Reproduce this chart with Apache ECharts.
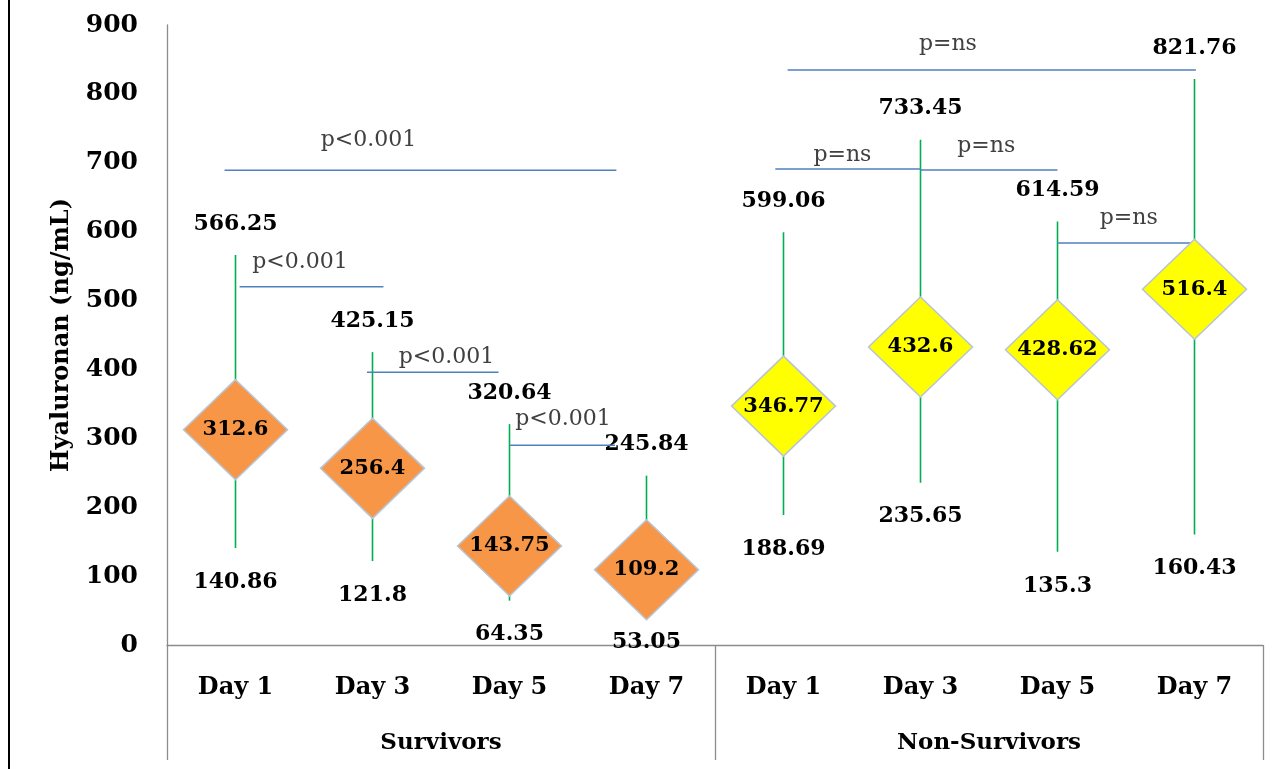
<!DOCTYPE html>
<html>
<head>
<meta charset="utf-8">
<script src="https://cdn.jsdelivr.net/npm/echarts@6/dist/echarts.min.js"></script>
<style>
  html, body { margin: 0; padding: 0; background: #fff; }
  #chart { position: absolute; left: 0; top: 0; width: 1278px; height: 769px; }
  #frame { position: absolute; left: 8px; top: 0; width: 2px; height: 769px; background: #000; }
</style>
</head>
<body>
<div id="chart"></div>
<div id="frame"></div>
<script>
// Hyaluronan by day: median (diamond) with range (whisker), survivors vs non-survivors
const days = ['Day 1', 'Day 3', 'Day 5', 'Day 7', 'Day 1', 'Day 3', 'Day 5', 'Day 7'];
const groups = ['Survivors', 'Non-Survivors'];
const centers = [312.6, 256.4, 143.75, 109.2, 346.77, 432.6, 428.62, 516.4];
const highs = [566.25, 425.15, 320.64, 245.84, 599.06, 733.45, 614.59, 821.76];
const lows = [140.86, 121.8, 64.35, 53.05, 188.69, 235.65, 135.3, 160.43];
const groupOf = [0, 0, 0, 0, 1, 1, 1, 1];

// y axis range
const yMin = 0, yMax = 900, yStep = 100;

// comparison brackets: x in category widths from the left end of the axis, y in ng/mL
const bracketFrom  = [0.42, 0.53, 1.46, 2.50, 4.53, 4.44, 5.50, 6.50];
const bracketTo    = [3.28, 1.58, 2.42, 3.27, 7.51, 5.50, 6.50, 7.51];
const bracketLevel = [689, 520, 396, 290, 834.5, 690.8, 689.4, 583.5];
const pLabels      = ['p<0.001', 'p<0.001', 'p<0.001', 'p<0.001', 'p=ns', 'p=ns', 'p=ns', 'p=ns'];
const pLabelX      = [1.47, 0.97, 2.04, 2.89, 5.70, 4.93, 5.98, 7.02];
const pLabelY      = [733, 556, 418, 327, 872, 711, 724, 620];

const SERIF = '"DejaVu Serif", "Liberation Serif", serif';
const groupColors = ['#F79646', '#FFFF00'];

const chart = echarts.init(document.getElementById('chart'), null, { renderer: 'canvas' });

const whiskerData = days.map((d, i) => [i, highs[i], lows[i]]);
const diamondData = days.map((d, i) => ({
  value: [i, centers[i]],
  itemStyle: { color: groupColors[groupOf[i]] }
}));

const bracketSeries = bracketFrom.map((x0, k) => ({
  type: 'line',
  xAxisIndex: 2,
  yAxisIndex: 0,
  data: [[x0, bracketLevel[k]], [bracketTo[k], bracketLevel[k]]],
  symbol: 'none',
  silent: true,
  z: 3,
  lineStyle: { color: '#4F81BD', width: 1.5 }
}));

const option = {
  animation: false,
  backgroundColor: '#fff',
  grid: { left: 167, right: 15, top: 25, bottom: 124, containLabel: false },
  xAxis: [
    {
      type: 'category',
      data: days,
      position: 'bottom',
      boundaryGap: true,
      axisLine: { show: true, lineStyle: { color: '#8C8C8C', width: 1.3 } },
      axisTick: { show: false },
      splitLine: { show: false },
      axisLabel: {
        interval: 0, margin: 31,
        fontFamily: SERIF, fontWeight: 'bold', fontSize: 24, color: '#000'
      }
    },
    {
      type: 'category',
      data: groups,
      position: 'bottom',
      boundaryGap: true,
      axisLine: { show: false },
      axisTick: { show: true, interval: 0, length: 115, lineStyle: { color: '#8C8C8C', width: 1.3 } },
      splitLine: { show: false },
      axisLabel: {
        interval: 0, margin: 87,
        fontFamily: SERIF, fontWeight: 'bold', fontSize: 23, color: '#000'
      }
    },
    {
      type: 'value',
      position: 'top',
      min: 0, max: days.length,
      show: false
    }
  ],
  yAxis: {
    type: 'value',
    min: yMin, max: yMax, interval: yStep,
    axisLine: { show: true, lineStyle: { color: '#8C8C8C', width: 1.3 } },
    axisTick: { show: false },
    splitLine: { show: false },
    axisLabel: {
      margin: 29,
      fontFamily: SERIF, fontWeight: 'bold', fontSize: 25, color: '#000'
    },
    name: 'Hyaluronan (ng/mL)',
    nameLocation: 'middle',
    nameRotate: 90,
    nameGap: 93,
    nameTextStyle: { fontFamily: SERIF, fontWeight: 'bold', fontSize: 24, color: '#000' }
  },
  series: [
    {
      type: 'custom',
      xAxisIndex: 0,
      yAxisIndex: 0,
      z: 1,
      silent: true,
      data: whiskerData,
      renderItem: function (params, api) {
        const i = api.value(0);
        const hi = api.value(1);
        const lo = api.value(2);
        const top = api.coord([i, hi]);
        const bot = api.coord([i, lo]);
        const font = 'bold 22px ' + SERIF;
        return {
          type: 'group',
          children: [
            {
              type: 'line',
              shape: { x1: top[0], y1: top[1], x2: bot[0], y2: bot[1] },
              style: { stroke: '#00B050', lineWidth: 1.6 }
            },
            {
              type: 'text',
              z2: 5,
              style: { text: String(hi), x: top[0], y: top[1] - 31, align: 'center', verticalAlign: 'middle', font: font, fill: '#000' }
            },
            {
              type: 'text',
              z2: 5,
              style: { text: String(lo), x: bot[0], y: bot[1] + 34, align: 'center', verticalAlign: 'middle', font: font, fill: '#000' }
            }
          ]
        };
      }
    },
    {
      type: 'scatter',
      xAxisIndex: 0,
      yAxisIndex: 0,
      z: 4,
      symbol: 'diamond',
      symbolSize: [104, 100],
      silent: true,
      itemStyle: { borderColor: '#B9C5D5', borderWidth: 1.5, opacity: 1 },
      label: {
        show: true,
        position: 'inside',
        formatter: p => String(p.value[1]),
        fontFamily: SERIF, fontWeight: 'bold', fontSize: 21, color: '#000'
      },
      data: diamondData
    },
    ...bracketSeries,
    {
      type: 'custom',
      xAxisIndex: 2,
      yAxisIndex: 0,
      z: 5,
      silent: true,
      data: pLabels.map((t, k) => [pLabelX[k], pLabelY[k], k]),
      renderItem: function (params, api) {
        const p = api.coord([api.value(0), api.value(1)]);
        const k = api.value(2);
        return {
          type: 'text',
          style: {
            text: pLabels[k], x: p[0], y: p[1], align: 'center', verticalAlign: 'middle',
            font: '22px ' + SERIF, fill: '#404040'
          }
        };
      }
    }
  ]
};

chart.setOption(option);
</script>
</body>
</html>
